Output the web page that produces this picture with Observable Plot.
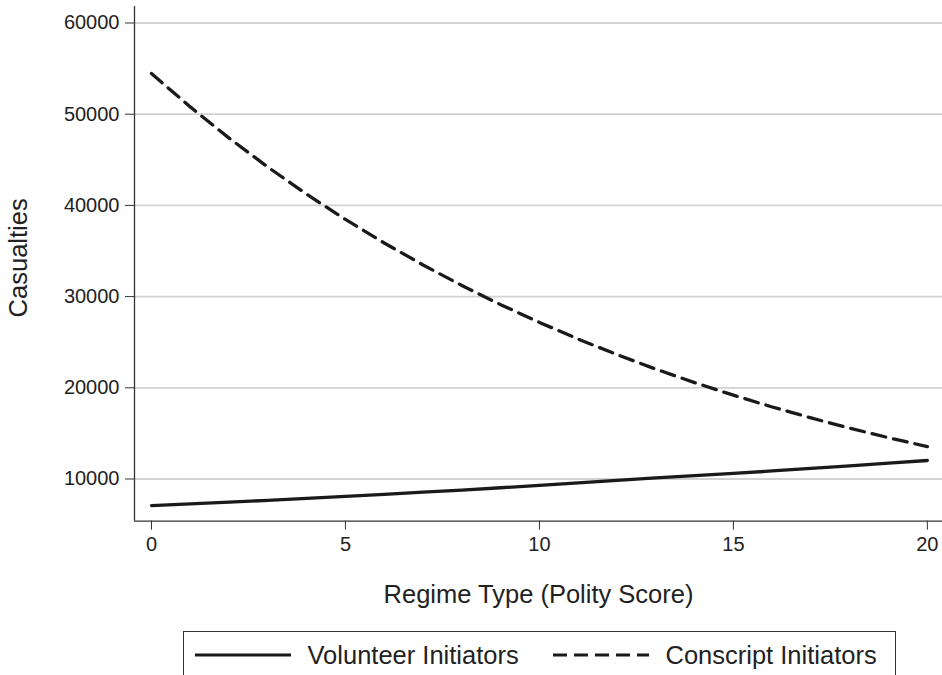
<!DOCTYPE html>
<html>
<head>
<meta charset="utf-8">
<script src="https://cdn.jsdelivr.net/npm/d3@7"></script>
<script src="https://cdn.jsdelivr.net/npm/@observablehq/plot@0.6"></script>
<style>
  html, body { margin: 0; padding: 0; background: #fff; }
  body { width: 942px; height: 675px; overflow: hidden; font-family: "Liberation Sans", Arial, Helvetica, sans-serif; }
  #legend {
    position: relative;
    margin-left: 182.5px;
    width: 713px;
    height: 70px;
    border: 1.2px solid #333;
    box-sizing: border-box;
    font-size: 25.5px;
    color: #222;
  }
  #legend .item { position: absolute; top: 0; height: 46px; display: flex; align-items: center; }
  #legend svg { display: block; }
</style>
</head>
<body>
<div id="chart"></div>
<div id="legend"></div>
<script>
// ---- data ----
const polity = [0, 1, 2, 3, 4, 5, 6, 7, 8, 9, 10, 11, 12, 13, 14, 15, 16, 17, 18, 19, 20];
const volunteer = [7090, 7270, 7460, 7660, 7870, 8100, 8320, 8550, 8790, 9040, 9300, 9570, 9850, 10120, 10380, 10620, 10880, 11160, 11450, 11740, 12030];
const conscript = [54460, 50800, 47380, 44200, 41230, 38460, 35880, 33470, 31220, 29120, 27170, 25340, 23640, 22050, 20570, 19190, 17900, 16700, 15570, 14530, 13550];
const yTicks = [10000, 20000, 30000, 40000, 50000, 60000];
const xTicks = [0, 5, 10, 15, 20];
const seriesNames = ["Volunteer Initiators", "Conscript Initiators"];
const xTitle = "Regime Type (Polity Score)";
const yTitle = "Casualties";

const volRows = polity.map((p, i) => ({x: p, y: volunteer[i]}));
const conRows = polity.map((p, i) => ({x: p, y: conscript[i]}));

const xDomain = [-0.438, 20.39];
const yDomain = [5373, 61810];
const ink = "#1a1a1a";
const fontFamily = "'Liberation Sans', Arial, Helvetica, sans-serif";

const chart = Plot.plot({
  width: 942,
  height: 625,
  marginLeft: 134,
  marginRight: 0,
  marginTop: 6,
  marginBottom: 104.3,
  style: {fontFamily, fontSize: "20px", color: "#222", background: "#fff"},
  x: {domain: xDomain, label: null},
  y: {domain: yDomain, label: null},
  marks: [
    Plot.gridY(yTicks, {stroke: "#d2d2d2", strokeOpacity: 1, strokeWidth: 1.8}),
    Plot.ruleX([xDomain[0]], {stroke: "#333", strokeWidth: 1.3}),
    Plot.ruleY([yDomain[0]], {stroke: "#333", strokeWidth: 1.3}),
    Plot.axisY(yTicks, {tickSize: 9, tickPadding: 6, tickFormat: d3.format("d"), stroke: "#333", fontSize: 20, label: null}),
    Plot.axisX(xTicks, {tickSize: 9, tickPadding: 7, tickFormat: d3.format("d"), stroke: "#333", fontSize: 20, label: null}),
    Plot.lineY(volRows, {x: "x", y: "y", stroke: ink, strokeWidth: 3.3}),
    Plot.lineY(conRows, {x: "x", y: "y", stroke: ink, strokeWidth: 3.3, strokeDasharray: "14,8"}),
    Plot.text([xTitle], {frameAnchor: "bottom", dy: 74, fontSize: 25.5, lineAnchor: "middle", textAnchor: "middle", fill: "#222"}),
    Plot.text([yTitle], {frameAnchor: "left", dx: -116, dy: -6, rotate: -90, fontSize: 25.5, lineAnchor: "middle", textAnchor: "middle", fill: "#222"})
  ]
});
document.getElementById("chart").appendChild(chart);

// ---- legend below the chart ----
const legend = d3.select("#legend").style("margin-top", "6px");
const items = [
  {name: seriesNames[0], dash: null, left: 11},
  {name: seriesNames[1], dash: "14,7", left: 369}
];
items.forEach(it => {
  const div = legend.append("div").attr("class", "item").style("left", it.left + "px");
  const s = div.append("svg").attr("width", 113).attr("height", 10);
  s.append("line").attr("x1", 0).attr("x2", 96).attr("y1", 5).attr("y2", 5)
    .attr("stroke", ink).attr("stroke-width", 3)
    .attr("stroke-dasharray", it.dash);
  div.append("span").text(it.name);
});
</script>
</body>
</html>
